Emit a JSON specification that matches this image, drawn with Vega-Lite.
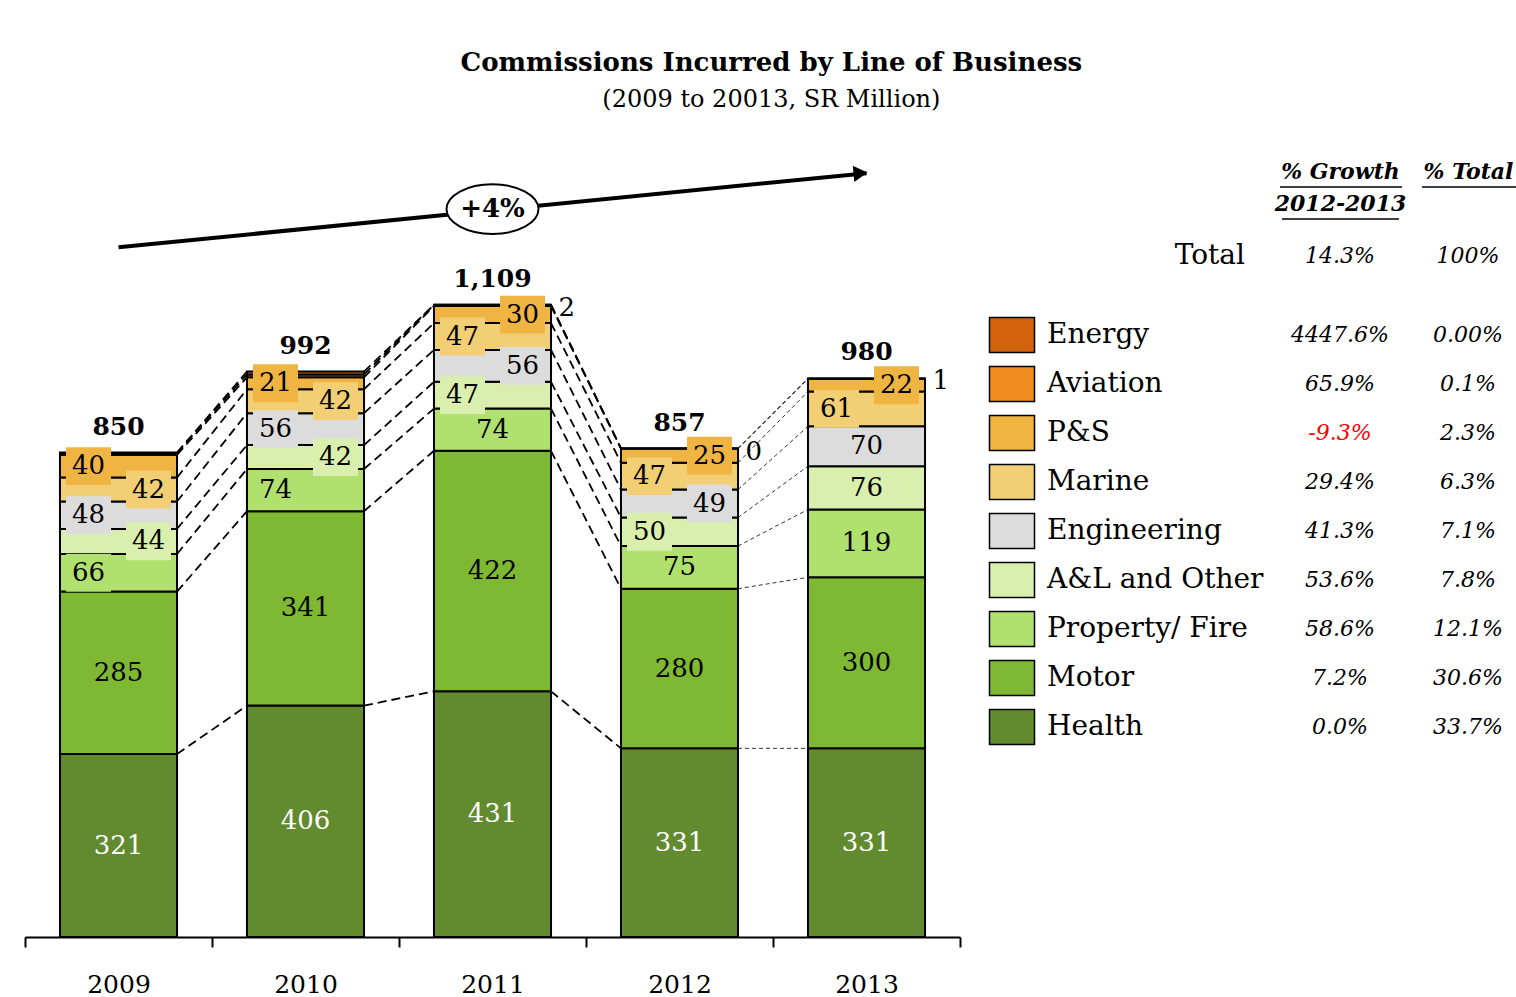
{
  "$schema": "https://vega.github.io/schema/vega-lite/v6.json",
  "padding": {"top": 50, "left": 24, "right": 0, "bottom": 0},
  "background": "white",
  "config": {"view": {"stroke": null}, "font": "DejaVu Serif"},
  "title": {
    "text": "Commissions Incurred by Line of Business",
    "subtitle": "(2009 to 20013, SR Million)",
    "font": "DejaVu Serif", "fontSize": 26, "fontWeight": "bold", "color": "black",
    "subtitleFont": "DejaVu Serif", "subtitleFontSize": 24, "subtitleColor": "black",
    "subtitlePadding": 12, "anchor": "middle", "offset": 27
  },
  "datasets": {
    "main": [
      {"year": 2009, "cat": "Health", "value": 321},
      {"year": 2009, "cat": "Motor", "value": 285},
      {"year": 2009, "cat": "Property/ Fire", "value": 66},
      {"year": 2009, "cat": "A&L and Other", "value": 44},
      {"year": 2009, "cat": "Engineering", "value": 48},
      {"year": 2009, "cat": "Marine", "value": 42},
      {"year": 2009, "cat": "P&S", "value": 40},
      {"year": 2009, "cat": "Aviation", "value": 3},
      {"year": 2009, "cat": "Energy", "value": 1},
      {"year": 2010, "cat": "Health", "value": 406},
      {"year": 2010, "cat": "Motor", "value": 341},
      {"year": 2010, "cat": "Property/ Fire", "value": 74},
      {"year": 2010, "cat": "A&L and Other", "value": 42},
      {"year": 2010, "cat": "Engineering", "value": 56},
      {"year": 2010, "cat": "Marine", "value": 42},
      {"year": 2010, "cat": "P&S", "value": 21},
      {"year": 2010, "cat": "Aviation", "value": 5},
      {"year": 2010, "cat": "Energy", "value": 5},
      {"year": 2011, "cat": "Health", "value": 431},
      {"year": 2011, "cat": "Motor", "value": 422},
      {"year": 2011, "cat": "Property/ Fire", "value": 74},
      {"year": 2011, "cat": "A&L and Other", "value": 47},
      {"year": 2011, "cat": "Engineering", "value": 56},
      {"year": 2011, "cat": "Marine", "value": 47},
      {"year": 2011, "cat": "P&S", "value": 30},
      {"year": 2011, "cat": "Aviation", "value": 2},
      {"year": 2011, "cat": "Energy", "value": 0},
      {"year": 2012, "cat": "Health", "value": 331},
      {"year": 2012, "cat": "Motor", "value": 280},
      {"year": 2012, "cat": "Property/ Fire", "value": 75},
      {"year": 2012, "cat": "A&L and Other", "value": 50},
      {"year": 2012, "cat": "Engineering", "value": 49},
      {"year": 2012, "cat": "Marine", "value": 47},
      {"year": 2012, "cat": "P&S", "value": 25},
      {"year": 2012, "cat": "Aviation", "value": 0},
      {"year": 2012, "cat": "Energy", "value": 0},
      {"year": 2013, "cat": "Health", "value": 331},
      {"year": 2013, "cat": "Motor", "value": 300},
      {"year": 2013, "cat": "Property/ Fire", "value": 119},
      {"year": 2013, "cat": "A&L and Other", "value": 76},
      {"year": 2013, "cat": "Engineering", "value": 70},
      {"year": 2013, "cat": "Marine", "value": 61},
      {"year": 2013, "cat": "P&S", "value": 22},
      {"year": 2013, "cat": "Aviation", "value": 1},
      {"year": 2013, "cat": "Energy", "value": 0}
    ],
    "table": [
      {"cat": "Total", "growth": "14.3%", "share": "100%"},
      {"cat": "Energy", "growth": "4447.6%", "share": "0.00%"},
      {"cat": "Aviation", "growth": "65.9%", "share": "0.1%"},
      {"cat": "P&S", "growth": "-9.3%", "share": "2.3%"},
      {"cat": "Marine", "growth": "29.4%", "share": "6.3%"},
      {"cat": "Engineering", "growth": "41.3%", "share": "7.1%"},
      {"cat": "A&L and Other", "growth": "53.6%", "share": "7.8%"},
      {"cat": "Property/ Fire", "growth": "58.6%", "share": "12.1%"},
      {"cat": "Motor", "growth": "7.2%", "share": "30.6%"},
      {"cat": "Health", "growth": "0.0%", "share": "33.7%"}
    ],
    "arrow": [{"year": 2009, "v": 1210, "year2": 2013, "v2": 1340}],
    "cagr": [{"year": 2011, "v": 1277, "label": "+4%"}],
    "tip": [{"year": 2013, "v": 1340}]
  },
  "spacing": 25,
  "hconcat": [
    {
      "width": 935,
      "height": 798,
      "layer": [
        {
          "data": {"name": "main"},
          "transform": [
            {"calculate": "indexof(['Health','Motor','Property/ Fire','A&L and Other','Engineering','Marine','P&S','Aviation','Energy'], datum.cat)", "as": "k"},
            {"stack": "value", "groupby": ["year"], "sort": [{"field": "k", "order": "ascending"}], "as": ["y0", "y1"]},
            {"window": [{"op": "lead", "field": "y1", "as": "ny"}, {"op": "lead", "field": "year", "as": "nyear"}], "groupby": ["cat"], "sort": [{"field": "year", "order": "ascending"}]},
            {"filter": "datum.nyear != null"}
          ],
          "mark": {"type": "rule", "xOffset": 58.5, "x2Offset": -58.5},
          "encoding": {
            "x": {"field": "year", "type": "ordinal", "scale": {"domain": [2009, 2010, 2011, 2012, 2013], "paddingInner": 0, "paddingOuter": 0},
              "axis": {"title": null, "labelAngle": 0, "domainColor": "black", "domainWidth": 2, "tickColor": "black", "tickWidth": 2, "tickSize": 10, "tickBand": "extent", "labelFont": "DejaVu Serif", "labelFontSize": 25, "labelColor": "black", "labelPadding": 25}},
            "x2": {"field": "nyear"},
            "y": {"field": "y1", "type": "quantitative", "scale": {"domain": [0, 1400], "nice": false}, "axis": null},
            "y2": {"field": "ny"},
            "strokeDash": {"condition": {"test": "datum.year == 2012", "value": [4, 3]}, "value": [9, 5]},
            "strokeWidth": {"condition": {"test": "datum.year == 2012", "value": 1}, "value": 1.8},
            "color": {"condition": {"test": "datum.year == 2012", "value": "#333333"}, "value": "black"}
          }
        },
        {
          "data": {"name": "main"},
          "transform": [
            {"calculate": "indexof(['Health','Motor','Property/ Fire','A&L and Other','Engineering','Marine','P&S','Aviation','Energy'], datum.cat)", "as": "k"},
            {"stack": "value", "groupby": ["year"], "sort": [{"field": "k", "order": "ascending"}], "as": ["y0", "y1"]}
          ],
          "mark": {"type": "bar", "stroke": "black", "strokeWidth": 2, "width": {"band": 0.626}},
          "encoding": {
            "x": {"field": "year", "type": "ordinal"},
            "y": {"field": "y1", "type": "quantitative"},
            "y2": {"field": "y0"},
            "color": {"field": "cat", "type": "nominal", "legend": null,
              "scale": {"domain": ["Energy", "Aviation", "P&S", "Marine", "Engineering", "A&L and Other", "Property/ Fire", "Motor", "Health", "Total"],
                        "range": ["#D2620C", "#F08C1E", "#EFB442", "#F2CF74", "#DCDCDC", "#DAEEAE", "#B0E06E", "#7FB832", "#628A2E", "#ffffff"]}}
          }
        },
        {
          "data": {"name": "main"},
          "transform": [
            {"calculate": "indexof(['Health','Motor','Property/ Fire','A&L and Other','Engineering','Marine','P&S','Aviation','Energy'], datum.cat)", "as": "k"},
            {"stack": "value", "groupby": ["year"], "sort": [{"field": "k", "order": "ascending"}], "as": ["y0", "y1"]},
            {"calculate": "(datum.y0 + datum.y1) / 2", "as": "mid"},
            {"calculate": "datum.year + '|' + datum.cat", "as": "key"},
            {"filter": "indexof(['2009|P&S','2009|Engineering','2009|Property/ Fire','2010|P&S','2010|Engineering','2010|Property/ Fire','2011|Marine','2011|A&L and Other','2012|Marine','2012|A&L and Other','2013|Marine'], datum.key) >= 0"}
          ],
          "layer": [
            {
              "mark": {"type": "point", "shape": "M-1,-0.84H1V0.84H-1Z", "size": 2025, "filled": true, "opacity": 1, "xOffset": -30},
              "encoding": {
                "x": {"field": "year", "type": "ordinal"},
                "y": {"field": "mid", "type": "quantitative"},
                "color": {"field": "cat", "type": "nominal", "legend": null}
              }
            },
            {
              "mark": {"type": "text", "fontSize": 26, "dx": -30, "align": "center", "baseline": "middle", "color": "black"},
              "encoding": {
                "x": {"field": "year", "type": "ordinal"},
                "y": {"field": "mid", "type": "quantitative"},
                "text": {"field": "value", "type": "quantitative", "format": "d"}
              }
            }
          ]
        },
        {
          "data": {"name": "main"},
          "transform": [
            {"calculate": "indexof(['Health','Motor','Property/ Fire','A&L and Other','Engineering','Marine','P&S','Aviation','Energy'], datum.cat)", "as": "k"},
            {"stack": "value", "groupby": ["year"], "sort": [{"field": "k", "order": "ascending"}], "as": ["y0", "y1"]},
            {"calculate": "(datum.y0 + datum.y1) / 2", "as": "mid"},
            {"calculate": "datum.year + '|' + datum.cat", "as": "key"},
            {"filter": "indexof(['2009|Marine','2009|A&L and Other','2010|Marine','2010|A&L and Other','2011|P&S','2011|Engineering','2012|P&S','2012|Engineering','2013|P&S'], datum.key) >= 0"}
          ],
          "layer": [
            {
              "mark": {"type": "point", "shape": "M-1,-0.84H1V0.84H-1Z", "size": 2025, "filled": true, "opacity": 1, "xOffset": 30},
              "encoding": {
                "x": {"field": "year", "type": "ordinal"},
                "y": {"field": "mid", "type": "quantitative"},
                "color": {"field": "cat", "type": "nominal", "legend": null}
              }
            },
            {
              "mark": {"type": "text", "fontSize": 26, "dx": 30, "align": "center", "baseline": "middle", "color": "black"},
              "encoding": {
                "x": {"field": "year", "type": "ordinal"},
                "y": {"field": "mid", "type": "quantitative"},
                "text": {"field": "value", "type": "quantitative", "format": "d"}
              }
            }
          ]
        },
        {
          "data": {"name": "main"},
          "transform": [
            {"calculate": "indexof(['Health','Motor','Property/ Fire','A&L and Other','Engineering','Marine','P&S','Aviation','Energy'], datum.cat)", "as": "k"},
            {"stack": "value", "groupby": ["year"], "sort": [{"field": "k", "order": "ascending"}], "as": ["y0", "y1"]},
            {"calculate": "(datum.y0 + datum.y1) / 2", "as": "mid"},
            {"calculate": "datum.year + '|' + datum.cat", "as": "key"},
            {"filter": "datum.cat != 'Energy' && datum.cat != 'Aviation' && indexof(['2009|P&S','2009|Engineering','2009|Property/ Fire','2010|P&S','2010|Engineering','2010|Property/ Fire','2011|Marine','2011|A&L and Other','2012|Marine','2012|A&L and Other','2013|Marine','2009|Marine','2009|A&L and Other','2010|Marine','2010|A&L and Other','2011|P&S','2011|Engineering','2012|P&S','2012|Engineering','2013|P&S'], datum.key) < 0"}
          ],
          "mark": {"type": "text", "fontSize": 26, "align": "center", "baseline": "middle"},
          "encoding": {
            "x": {"field": "year", "type": "ordinal"},
            "y": {"field": "mid", "type": "quantitative"},
            "text": {"field": "value", "type": "quantitative", "format": "d"},
            "color": {"condition": {"test": "datum.cat == 'Health'", "value": "white"}, "value": "black"}
          }
        },
        {
          "data": {"name": "main"},
          "transform": [
            {"calculate": "indexof(['Health','Motor','Property/ Fire','A&L and Other','Engineering','Marine','P&S','Aviation','Energy'], datum.cat)", "as": "k"},
            {"stack": "value", "groupby": ["year"], "sort": [{"field": "k", "order": "ascending"}], "as": ["y0", "y1"]},
            {"filter": "datum.cat == 'Aviation' && datum.year >= 2011"}
          ],
          "mark": {"type": "text", "fontSize": 26, "align": "left", "baseline": "middle", "dx": 66, "dy": 3, "color": "black"},
          "encoding": {
            "x": {"field": "year", "type": "ordinal"},
            "y": {"field": "y1", "type": "quantitative"},
            "text": {"field": "value", "type": "quantitative", "format": "d"}
          }
        },
        {
          "data": {"name": "main"},
          "transform": [
            {"aggregate": [{"op": "sum", "field": "value", "as": "total"}], "groupby": ["year"]}
          ],
          "mark": {"type": "text", "fontSize": 25, "fontWeight": "bold", "align": "center", "baseline": "middle", "dy": -26, "color": "black"},
          "encoding": {
            "x": {"field": "year", "type": "ordinal"},
            "y": {"field": "total", "type": "quantitative"},
            "text": {"field": "total", "type": "quantitative", "format": ",d"}
          }
        },
        {
          "data": {"name": "arrow"},
          "mark": {"type": "rule", "strokeWidth": 4, "color": "black"},
          "encoding": {
            "x": {"field": "year", "type": "ordinal"},
            "x2": {"field": "year2"},
            "y": {"field": "v", "type": "quantitative"},
            "y2": {"field": "v2"}
          }
        },
        {
          "data": {"name": "tip"},
          "mark": {"type": "point", "shape": "triangle-right", "size": 260, "angle": -5.6, "filled": true, "opacity": 1, "color": "black", "xOffset": -6},
          "encoding": {
            "x": {"field": "year", "type": "ordinal"},
            "y": {"field": "v", "type": "quantitative"}
          }
        },
        {
          "data": {"name": "cagr"},
          "mark": {"type": "point", "shape": "M-1,0A1,0.54,0,1,1,1,0A1,0.54,0,1,1,-1,0Z", "size": 8464, "filled": false, "fill": "white", "fillOpacity": 1, "opacity": 1, "stroke": "black", "strokeWidth": 2},
          "encoding": {
            "x": {"field": "year", "type": "ordinal"},
            "y": {"field": "v", "type": "quantitative"}
          }
        },
        {
          "data": {"name": "cagr"},
          "mark": {"type": "text", "fontSize": 26, "fontWeight": "bold", "align": "center", "baseline": "middle", "color": "black"},
          "encoding": {
            "x": {"field": "year", "type": "ordinal"},
            "y": {"field": "v", "type": "quantitative"},
            "text": {"field": "label", "type": "nominal"}
          }
        }
      ]
    },
    {
      "width": 531,
      "height": 798,
      "data": {"name": "table"},
      "encoding": {
        "y": {"field": "cat", "type": "nominal", "axis": null,
          "scale": {"type": "point", "padding": 0, "domain": ["Total", "_", "Energy", "Aviation", "P&S", "Marine", "Engineering", "A&L and Other", "Property/ Fire", "Motor", "Health"], "range": [98, 588]}}
      },
      "layer": [
        {
          "transform": [{"filter": "datum.cat != 'Total'"}],
          "mark": {"type": "point", "shape": "M-1,-0.78H1V0.78H-1Z", "size": 2025, "filled": true, "opacity": 1, "stroke": "black", "strokeWidth": 1.5, "xOffset": -328},
          "encoding": {
            "x": {"datum": "growth", "type": "nominal",
              "scale": {"type": "point", "padding": 0, "domain": ["growth", "total"], "range": [353, 481]},
              "axis": {"orient": "top", "offset": -22, "ticks": false, "domain": false, "labelPadding": 0, "labelBaseline": "top", "labelAngle": 0,
                "labelFont": "DejaVu Serif", "labelFontSize": 22, "labelFontStyle": "italic", "labelFontWeight": "bold", "labelColor": "black",
                "labelLineHeight": 32, "title": null,
                "labelExpr": "datum.value == 'growth' ? ['% Growth', '2012-2013'] : '% Total'"}},
            "color": {"field": "cat", "type": "nominal", "legend": null,
              "scale": {"domain": ["Energy", "Aviation", "P&S", "Marine", "Engineering", "A&L and Other", "Property/ Fire", "Motor", "Health", "Total"],
                        "range": ["#D2620C", "#F08C1E", "#EFB442", "#F2CF74", "#DCDCDC", "#DAEEAE", "#B0E06E", "#7FB832", "#628A2E", "#ffffff"]}}
          }
        },
        {
          "transform": [{"filter": "datum.cat != 'Total'"}],
          "mark": {"type": "text", "fontSize": 28, "align": "left", "baseline": "middle", "dx": -293, "color": "black"},
          "encoding": {
            "x": {"datum": "growth", "type": "nominal"},
            "text": {"field": "cat", "type": "nominal"}
          }
        },
        {
          "transform": [{"filter": "datum.cat != 'Total'"}],
          "mark": {"type": "text", "fontSize": 22, "fontStyle": "italic", "align": "center", "baseline": "middle"},
          "encoding": {
            "x": {"datum": "growth", "type": "nominal"},
            "text": {"field": "growth", "type": "nominal"},
            "color": {"condition": {"test": "indexof(datum.growth, '-') == 0", "value": "#FF0000"}, "value": "black"}
          }
        },
        {
          "transform": [{"filter": "datum.cat != 'Total'"}],
          "mark": {"type": "text", "fontSize": 22, "fontStyle": "italic", "align": "center", "baseline": "middle", "color": "black"},
          "encoding": {
            "x": {"datum": "total", "type": "nominal"},
            "text": {"field": "share", "type": "nominal"}
          }
        },
        {
          "transform": [{"filter": "datum.cat == 'Total'"}],
          "mark": {"type": "text", "fontSize": 28, "align": "right", "baseline": "middle", "dx": -95, "dy": 19, "color": "black"},
          "encoding": {
            "x": {"datum": "growth", "type": "nominal"},
            "text": {"field": "cat", "type": "nominal"}
          }
        },
        {
          "transform": [{"filter": "datum.cat == 'Total'"}],
          "mark": {"type": "text", "fontSize": 22, "fontStyle": "italic", "align": "center", "baseline": "middle", "dy": 19, "color": "black"},
          "encoding": {
            "x": {"datum": "growth", "type": "nominal"},
            "text": {"field": "growth", "type": "nominal"}
          }
        },
        {
          "transform": [{"filter": "datum.cat == 'Total'"}],
          "mark": {"type": "text", "fontSize": 22, "fontStyle": "italic", "align": "center", "baseline": "middle", "dy": 19, "color": "black"},
          "encoding": {
            "x": {"datum": "total", "type": "nominal"},
            "text": {"field": "share", "type": "nominal"}
          }
        },
        {
          "transform": [{"filter": "datum.cat == 'Total'"}],
          "mark": {"type": "rule", "strokeWidth": 1.5, "color": "black", "xOffset": -60, "x2Offset": 62, "yOffset": -50},
          "encoding": {
            "x": {"datum": "growth", "type": "nominal"},
            "x2": {"datum": "growth"},
            "y": {"datum": "Total", "type": "nominal"}
          }
        },
        {
          "transform": [{"filter": "datum.cat == 'Total'"}],
          "mark": {"type": "rule", "strokeWidth": 1.5, "color": "black", "xOffset": -58, "x2Offset": 59, "yOffset": -18},
          "encoding": {
            "x": {"datum": "growth", "type": "nominal"},
            "x2": {"datum": "growth"},
            "y": {"datum": "Total", "type": "nominal"}
          }
        },
        {
          "transform": [{"filter": "datum.cat == 'Total'"}],
          "mark": {"type": "rule", "strokeWidth": 1.5, "color": "black", "xOffset": -46, "x2Offset": 50, "yOffset": -50},
          "encoding": {
            "x": {"datum": "total", "type": "nominal"},
            "x2": {"datum": "total"},
            "y": {"datum": "Total", "type": "nominal"}
          }
        }
      ]
    }
  ]
}
